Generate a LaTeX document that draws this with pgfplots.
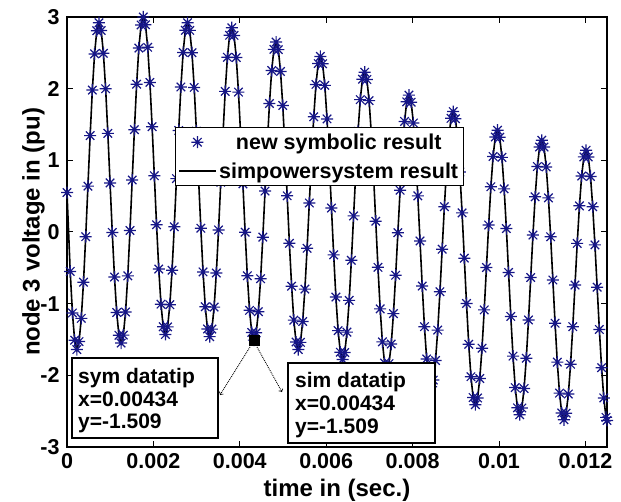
\documentclass[border=0pt]{standalone}
\usepackage{fontspec}
\setmainfont{Liberation Sans}
\usepackage{pgfplots}
\usepackage{pgfplotstable}
\pgfplotsset{compat=1.18}
\definecolor{mkblue}{RGB}{22,22,135}
\pgfdeclareplotmark{star8}{%
  \pgfpathmoveto{\pgfqpoint{-\pgfplotmarksize}{0pt}}\pgfpathlineto{\pgfqpoint{\pgfplotmarksize}{0pt}}%
  \pgfpathmoveto{\pgfqpoint{0pt}{-\pgfplotmarksize}}\pgfpathlineto{\pgfqpoint{0pt}{\pgfplotmarksize}}%
  \pgfpathmoveto{\pgfqpoint{-0.707\pgfplotmarksize}{-0.707\pgfplotmarksize}}\pgfpathlineto{\pgfqpoint{0.707\pgfplotmarksize}{0.707\pgfplotmarksize}}%
  \pgfpathmoveto{\pgfqpoint{-0.707\pgfplotmarksize}{0.707\pgfplotmarksize}}\pgfpathlineto{\pgfqpoint{0.707\pgfplotmarksize}{-0.707\pgfplotmarksize}}%
  \pgfusepathqstroke}
\pgfplotstableread{
t y
0 0.55
0.00007425 -0.55
0.0001255 -1.13
0.00017675 -1.51
0.000228 -1.64
0.00027925 -1.529
0.0003305 -1.205
0.00038175 -0.700
0.000433 -0.065
0.00048425 0.640
0.0005355 1.345
0.00058675 1.980
0.000638 2.485
0.00068925 2.809
0.0007405 2.92
0.00079175 2.811
0.000843 2.493
0.00089425 1.999
0.0009455 1.376
0.00099675 0.685
0.001048 -0.006
0.00109925 -0.629
0.0011505 -1.123
0.00120175 -1.441
0.001253 -1.55
0.00130425 -1.439
0.0013555 -1.116
0.00140675 -0.612
0.001458 0.022
0.00150925 0.725
0.0015605 1.428
0.00161175 2.062
0.001663 2.566
0.00171425 2.889
0.0017655 3.00
0.00181675 2.892
0.001868 2.577
0.00191925 2.087
0.0019705 1.469
0.00202175 0.785
0.002073 0.101
0.00212425 -0.517
0.0021755 -1.007
0.00222675 -1.322
0.002278 -1.43
0.00232925 -1.324
0.0023805 -1.015
0.00243175 -0.534
0.002483 0.073
0.00253425 0.745
0.0025855 1.417
0.00263675 2.024
0.002688 2.505
0.00273925 2.814
0.0027905 2.92
0.00284175 2.813
0.002893 2.502
0.00294425 2.017
0.0029955 1.407
0.00304675 0.730
0.003098 0.053
0.00314925 -0.557
0.0032005 -1.042
0.00325175 -1.353
0.003303 -1.46
0.00335425 -1.355
0.0034055 -1.048
0.00345675 -0.572
0.003508 0.029
0.00355925 0.695
0.0036105 1.361
0.00366175 1.962
0.003713 2.438
0.00376425 2.745
0.0038155 2.85
0.00386675 2.743
0.003918 2.434
0.00396925 1.952
0.0040205 1.344
0.00407175 0.671
0.004123 -0.003
0.00417425 -0.611
0.0042255 -1.093
0.00427675 -1.402
0.004328 -1.509
0.00437925 -1.407
0.0044305 -1.112
0.00448175 -0.652
0.004533 -0.072
0.00458425 0.571
0.0046355 1.213
0.00468675 1.793
0.004738 2.253
0.00478925 2.548
0.0048405 2.65
0.00489175 2.545
0.004943 2.240
0.00499425 1.766
0.0050455 1.168
0.00509675 0.505
0.005148 -0.158
0.00519925 -0.756
0.0052505 -1.230
0.00530175 -1.535
0.005353 -1.64
0.00540425 -1.540
0.0054555 -1.249
0.00550675 -0.797
0.005558 -0.227
0.00560925 0.405
0.0056605 1.037
0.00571175 1.607
0.005763 2.059
0.00581425 2.350
0.0058655 2.45
0.00591675 2.347
0.005968 2.046
0.00601925 1.578
0.0060705 0.989
0.00612175 0.335
0.006173 -0.319
0.00622425 -0.908
0.0062755 -1.376
0.00632675 -1.677
0.006378 -1.78
0.00642925 -1.682
0.0064805 -1.397
0.00653175 -0.954
0.006583 -0.395
0.00663425 0.225
0.0066855 0.845
0.00673675 1.404
0.006788 1.847
0.00683925 2.132
0.0068905 2.23
0.00694175 2.128
0.006993 1.833
0.00704425 1.373
0.0070955 0.793
0.00714675 0.150
0.007198 -0.493
0.00724925 -1.073
0.0073005 -1.533
0.00735175 -1.828
0.007403 -1.93
0.00745425 -1.836
0.0075055 -1.563
0.00755675 -1.139
0.007608 -0.603
0.00765925 -0.010
0.0077105 0.583
0.00776175 1.119
0.007813 1.543
0.00786425 1.816
0.0079155 1.91
0.00796675 1.811
0.008018 1.521
0.00806925 1.071
0.0081205 0.504
0.00817175 -0.125
0.008223 -0.754
0.00827425 -1.321
0.0083255 -1.771
0.00837675 -2.061
0.008428 -2.16
0.00847925 -2.066
0.0085305 -1.793
0.00858175 -1.369
0.008633 -0.833
0.00868425 -0.240
0.0087355 0.353
0.00878675 0.889
0.008838 1.313
0.00888925 1.586
0.0089405 1.68
0.00899175 1.580
0.009043 1.289
0.00909425 0.837
0.0091455 0.267
0.00919675 -0.365
0.009248 -0.997
0.00929925 -1.567
0.0093505 -2.019
0.00940175 -2.310
0.009453 -2.41
0.00950425 -2.316
0.0095555 -2.044
0.00960675 -1.621
0.009658 -1.087
0.00970925 -0.495
0.0097605 0.097
0.00981175 0.631
0.009863 1.054
0.00991425 1.326
0.0099655 1.42
0.01001675 1.323
0.010068 1.041
0.01011925 0.602
0.0101705 0.048
0.01022175 -0.565
0.010273 -1.178
0.01032425 -1.732
0.0103755 -2.171
0.01042675 -2.453
0.010478 -2.55
0.01052925 -2.456
0.0105805 -2.184
0.01063175 -1.761
0.010683 -1.227
0.01073425 -0.635
0.0107855 -0.043
0.01083675 0.491
0.010888 0.914
0.01093925 1.186
0.0109905 1.28
0.01104175 1.185
0.011093 0.908
0.01114425 0.476
0.0111955 -0.067
0.01124675 -0.670
0.011298 -1.273
0.01134925 -1.816
0.0114005 -2.248
0.01145175 -2.525
0.011503 -2.62
0.01155425 -2.528
0.0116055 -2.261
0.01165675 -1.845
0.011708 -1.321
0.01175925 -0.740
0.0118105 -0.159
0.01186175 0.365
0.011913 0.781
0.01196425 1.048
0.0120155 1.14
0.01206675 1.047
0.012118 0.775
0.01216925 0.353
0.0122205 -0.180
0.01227175 -0.770
0.012323 -1.360
0.01237425 -1.893
0.0124255 -2.315
0.01247675 -2.587
0.0125 -2.63
}\wave

\begin{document}
\begin{tikzpicture}
\useasboundingbox (-67pt,-55pt) rectangle (554pt,447pt);
\begin{axis}[
  at={(0pt,0pt)}, anchor=south west,
  scale only axis, width=540pt, height=430pt,
  xmin=0, xmax=0.0125, ymin=-3, ymax=3,
  xtick={0,0.002,0.004,0.006,0.008,0.01,0.012},
  xticklabels={0,0.002,0.004,0.006,0.008,0.01,0.012},
  ytick={-3,-2,-1,0,1,2,3},
  yticklabels={-3,-2,-1,0,1,2,3},
  scaled x ticks=false,
  tick align=inside,
  major tick length=6pt,
  tick style={black, line width=1pt},
  axis line style={black, line width=1.5pt},
  ticklabel style={font=\bfseries\fontsize{21.5}{24}\selectfont},
  yticklabel style={xshift=-4pt},
  xticklabel style={yshift=-3pt},
  xlabel={time in (sec.)},
  ylabel={node 3 voltage in (pu)},
  label style={font=\bfseries\fontsize{24}{28}\selectfont},
  xlabel style={at={(axis description cs:0.5,-0.1)}, anchor=center},
  ylabel style={at={(axis description cs:-0.062,0.5)}, anchor=center},
  legend image code/.code={\draw[mark repeat=2,mark phase=2,#1] plot coordinates {(0pt,0pt) (18pt,0pt) (37pt,0pt)};},
  legend style={at={(0.2,0.744)}, anchor=north west, draw=black, line width=1.2pt, fill=white,
    font=\bfseries\fontsize{21.5}{24}\selectfont, inner xsep=3pt, inner ysep=5pt, row sep=10pt,
    nodes={inner xsep=2pt, inner ysep=1pt}},
  clip mode=individual,
]
\addplot[black, line width=1.6pt, forget plot] table[x=t,y=y] {\wave};
\addplot[only marks, mark=star8, mark size=6pt, color=mkblue, line width=1.2pt] table[x=t,y=y] {\wave};
\addlegendentry{new symbolic result}
\addlegendimage{black, line width=1.6pt}
\addlegendentry{simpowersystem result}
\addplot[only marks, mark=square*, mark size=5pt, black, forget plot] coordinates {(0.00434,-1.509)};
\end{axis}
\draw[line width=1.2pt, fill=white] (5pt,9pt) rectangle (151pt,89pt);
\node[anchor=north west, align=left, font=\bfseries\fontsize{21}{22.5}\selectfont, inner sep=0pt] at (11pt,78.5pt) {sym datatip\\x=0.00434\\y=-1.509};
\draw[line width=1.2pt, fill=white] (221pt,4pt) rectangle (368pt,84pt);
\node[anchor=north west, align=left, font=\bfseries\fontsize{21}{23}\selectfont, inner sep=0pt] at (228pt,74.5pt) {sim datatip\\x=0.00434\\y=-1.509};
\draw[densely dotted, line width=0.9pt, ->] (183pt,100pt) -- (153pt,52pt);
\draw[densely dotted, line width=0.9pt, ->] (190pt,100pt) -- (215pt,55pt);
\end{tikzpicture}
\end{document}
